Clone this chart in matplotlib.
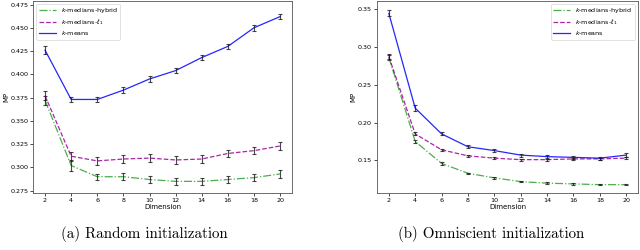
import matplotlib
matplotlib.use("Agg")
import matplotlib.pyplot as plt
import numpy as np

# ── Data ──────────────────────────────────────────────────────────────────────
dims = [2, 4, 6, 8, 10, 12, 14, 16, 18, 20]

# (a) random initialization
rand_hybrid = [0.372, 0.302, 0.290, 0.290, 0.287, 0.285, 0.285, 0.287, 0.289, 0.293]
rand_l1     = [0.377, 0.312, 0.307, 0.309, 0.310, 0.308, 0.309, 0.315, 0.318, 0.323]
rand_kmeans = [0.426, 0.373, 0.373, 0.383, 0.395, 0.404, 0.418, 0.430, 0.450, 0.462]
rand_hybrid_err = [0.005, 0.006, 0.003, 0.004, 0.004, 0.004, 0.004, 0.004, 0.004, 0.004]
rand_l1_err     = [0.005, 0.005, 0.004, 0.004, 0.004, 0.004, 0.004, 0.004, 0.004, 0.004]
rand_kmeans_err = [0.004, 0.003, 0.003, 0.003, 0.003, 0.003, 0.003, 0.003, 0.003, 0.003]

# (b) omniscient initialization
omni_hybrid = [0.286, 0.175, 0.146, 0.133, 0.127, 0.122, 0.120, 0.119, 0.118, 0.118]
omni_l1     = [0.287, 0.185, 0.164, 0.156, 0.153, 0.151, 0.151, 0.152, 0.152, 0.153]
omni_kmeans = [0.344, 0.219, 0.185, 0.168, 0.163, 0.157, 0.155, 0.154, 0.153, 0.157]
omni_hybrid_err = [0.003, 0.002, 0.0015, 0.001, 0.001, 0.001, 0.001, 0.001, 0.001, 0.001]
omni_l1_err     = [0.003, 0.002, 0.0015, 0.001, 0.001, 0.0015, 0.0015, 0.0015, 0.0015, 0.0015]
omni_kmeans_err = [0.004, 0.004, 0.002, 0.002, 0.002, 0.002, 0.002, 0.002, 0.002, 0.003]

labels = [r"$k$-medians-hybrid", r"$k$-medians-$\ell_1$", r"$k$-means"]
colors = ["#2ca02c", "#990099", "#0000ff"]
styles = ["-.", "--", "-"]

FS = 4.6


def draw_panel(ax, series, errs, ylim, yticks, yfmt, legend_loc):
    for vals, err, lab, col, ls in zip(series, errs, labels, colors, styles):
        ax.plot(dims, vals, color=col, linestyle=ls, linewidth=0.9,
                alpha=0.85, label=lab)
        ax.errorbar(dims, vals, yerr=err, fmt="none", ecolor="#1a1a1a",
                    elinewidth=0.8, capsize=1.4, capthick=0.8, alpha=0.8)
    ax.set_xticks(dims)
    ax.set_xlim(1.1, 20.9)
    ax.set_ylim(*ylim)
    ax.set_yticks(yticks)
    ax.set_yticklabels([yfmt.format(v) for v in yticks])
    ax.tick_params(labelsize=FS, length=2, width=0.5, pad=1.5)
    ax.set_xlabel("Dimension", fontsize=FS + 0.4, labelpad=1)
    ax.set_ylabel("MP", fontsize=FS + 0.4, labelpad=1)
    for sp in ax.spines.values():
        sp.set_linewidth(0.6)
        sp.set_color("#555555")
    ax.legend(loc=legend_loc, fontsize=FS, handlelength=2.6,
              borderpad=0.4, labelspacing=0.3, framealpha=0.8,
              edgecolor="#cccccc", fancybox=True).get_frame().set_linewidth(0.5)


fig = plt.figure(figsize=(6.4, 2.5), dpi=100)
ax1 = fig.add_axes([0.052, 0.228, 0.404, 0.770])
ax2 = fig.add_axes([0.589, 0.228, 0.408, 0.770])

draw_panel(ax1, [rand_hybrid, rand_l1, rand_kmeans],
           [rand_hybrid_err, rand_l1_err, rand_kmeans_err],
           (0.2725, 0.4793), [0.275, 0.300, 0.325, 0.350, 0.375, 0.400, 0.425, 0.450, 0.475],
           "{:.3f}", "upper left")
draw_panel(ax2, [omni_hybrid, omni_l1, omni_kmeans],
           [omni_hybrid_err, omni_l1_err, omni_kmeans_err],
           (0.107, 0.361), [0.15, 0.20, 0.25, 0.30, 0.35],
           "{:.2f}", "upper right")

fig.text(0.226, 0.066, "(a) Random initialization", family="cmr10",
         fontsize=10.8, ha="center", va="center")
fig.text(0.767, 0.066, "(b) Omniscient initialization", family="cmr10",
         fontsize=10.8, ha="center", va="center")

fig.savefig("out.png", dpi=100)
